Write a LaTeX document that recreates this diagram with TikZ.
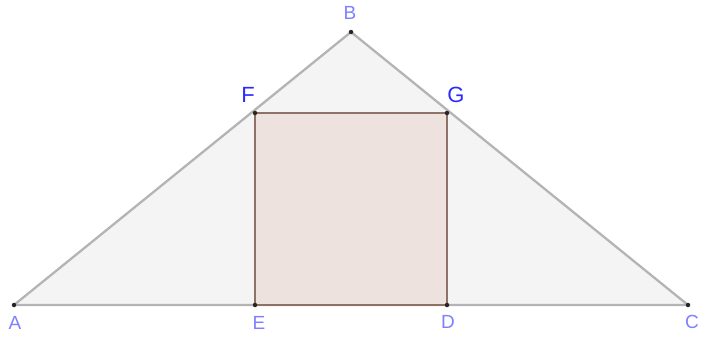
\documentclass[tikz,border=0pt]{standalone}
\usepackage{fontspec}
\setmainfont{Liberation Sans}
\usepackage{tikz}
\usetikzlibrary{positioning,calc}
\definecolor{edgegray}{HTML}{B4B4B4}
\definecolor{trifill}{HTML}{F4F4F4}
\definecolor{sqfill}{HTML}{EDE2DE}
\definecolor{sqedge}{HTML}{8E7167}
\definecolor{lblue}{HTML}{7F7FFF}
\definecolor{dblue}{HTML}{2B2BFF}

\begin{document}
\begin{tikzpicture}[x=1pt,y=-1pt, every node/.style={font=\fontsize{19}{19}\selectfont},
  pt/.style={circle,fill=black!85,inner sep=0pt,minimum size=4.5pt},
  lbl/.style={text=lblue},
  biglbl/.style={text=dblue,font=\fontsize{22}{22}\selectfont}]
\useasboundingbox (0,0) rectangle (702,340);
\foreach \name/\x/\y in {A/14/305,B/351/32,C/688/305,E/255/305,D/447/305,F/255/113,G/447/113} {
  \coordinate (\name) at (\x,\y);
}
\fill[trifill] (A)--(B)--(C)--cycle;
\draw[edgegray,line width=2.3pt,line join=round] (A)--(B)--(C)--cycle;
\fill[sqfill] (E)--(D)--(G)--(F)--cycle;
\draw[sqedge,line width=2.3pt] (E)--(D)--(G)--(F)--cycle;
\foreach \v in {A,B,C,D,E,F,G}{\node[pt] at (\v) {};}

\foreach \name/\x/\y in {A/15/323,B/350/13,C/692/322,E/259/323,D/448/322} {
  \node[lbl] (l\name) at (\x,\y) {\name};
}
\node[biglbl] (lF) at (248,95) {F};
\node[biglbl] (lG) at (456,95) {G};
\end{tikzpicture}
\end{document}
